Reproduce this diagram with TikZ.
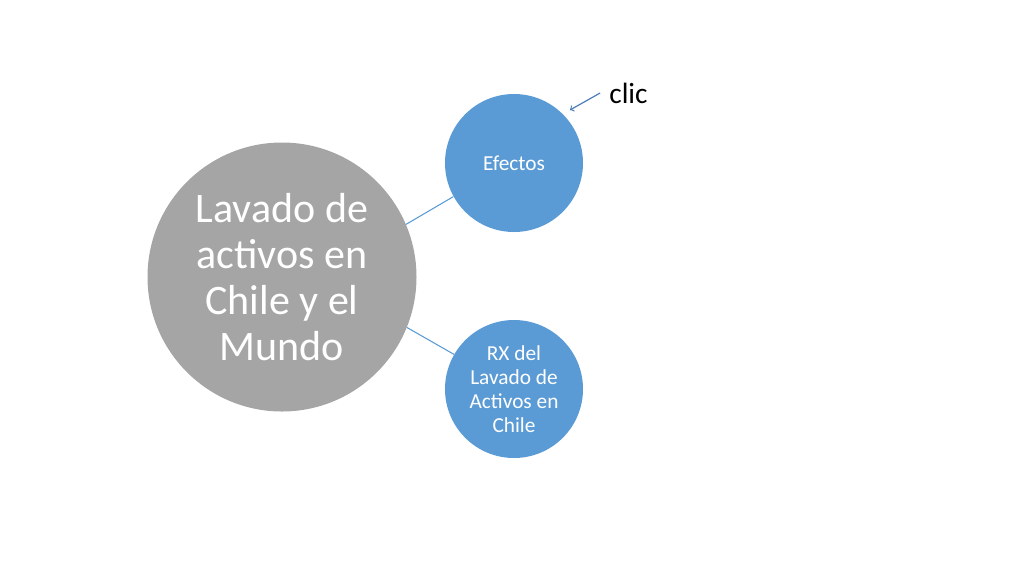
\documentclass[tikz,border=0pt]{standalone}
\usepackage{fontspec}
\setmainfont{Carlito}
\usepackage{tikz}
\definecolor{bubblegray}{HTML}{A5A5A5}
\definecolor{bubbleblue}{HTML}{5B9BD5}
\definecolor{arrowblue}{HTML}{4A7EBB}

\begin{document}
\begin{tikzpicture}[x=0.75pt,y=-0.75pt,
  hub/.style = {draw=none, circle, fill=bubblegray, text=white, minimum size=201.75pt, align=center, font=\fontsize{31.5}{34.5}\selectfont},
  leaf/.style = {draw=none, circle, fill=bubbleblue, text=white, minimum size=103.5pt, align=center, font=\fontsize{16}{18}\selectfont},
  link/.style = {draw=bubbleblue, line width=0.8pt}]
\useasboundingbox (0,0) rectangle (1024,576);
\node[hub] (lavado) at (282,277) {Lavado de\\activos en\\Chile y el\\Mundo};
\node[leaf] (efectos) at (514,163) {Efectos};
\node[leaf] (rx) at (514,389) {RX del\\Lavado de\\Activos en\\Chile};
\node[font=\fontsize{22}{26}\selectfont, inner xsep=6.75pt, inner ysep=0pt] (clic) at (628.5,93) {clic};
\coordinate (clictip) at (570,110);
\draw[link] (lavado.23) -- (efectos.209);
\draw[link] (lavado.-22) -- (rx.150);
\draw[arrowblue, line width=0.9pt, ->] (clic.west) -- (clictip);
\end{tikzpicture}
\end{document}
